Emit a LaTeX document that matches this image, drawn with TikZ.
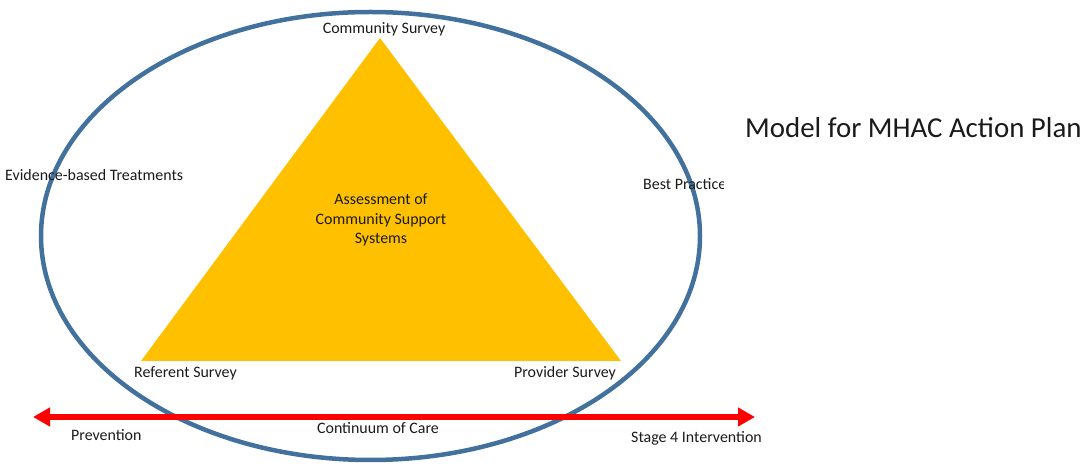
\documentclass[tikz,border=0pt]{standalone}
\usepackage{fontspec}
\setmainfont{Carlito}
\usepackage{tikz}
\usetikzlibrary{positioning, arrows.meta}
\definecolor{ringblue}{HTML}{41719C}
\definecolor{trigold}{HTML}{FFC000}
\definecolor{txtgray}{HTML}{1A1A1A}

\begin{document}
\begin{tikzpicture}[x=1bp,y=-1bp,
  lbl/.style={font=\fontsize{16}{19.5}\selectfont, inner sep=0pt, text=txtgray},
  bigl/.style={font=\fontsize{29}{34}\selectfont, inner sep=0pt, text=txtgray},
  ring/.style={draw=ringblue, line width=4.5bp},
  care/.style={draw=red, line width=6bp,
    {Triangle[length=17bp,width=18bp]}-{Triangle[length=17bp,width=18bp]}}]
\useasboundingbox (0,0) rectangle (1090,468);
% outer ring
\draw[ring] (370.5,236) ellipse (329.5 and 224);
% triangle
\coordinate (apex) at (380,38);
\coordinate (lcorner) at (141,361);
\coordinate (rcorner) at (621,361);
\fill[trigold] (apex) -- (lcorner) -- (rcorner) -- cycle;
\node[lbl, align=center] (assess) at (381,220) {Assessment of\\Community Support\\Systems};
% corner labels
\node[lbl, anchor=base] (comm) at (384,34) {Community Survey};
\node[lbl, anchor=base] (refer) at (185.5,378) {Referent Survey};
\node[lbl, anchor=base] (prov) at (565,378) {Provider Survey};
\node[lbl, anchor=base west] (evid) at (5,181) {Evidence-based Treatments};
\begin{scope}
\clip (600,160) rectangle (723,200);
\node[lbl, anchor=base west] (best) at (643,190) {Best Practice};
\end{scope}
\node[bigl, anchor=base west] (model) at (745,138) {Model for MHAC Action Plan};
% continuum arrow
\coordinate (cleft) at (33,417);
\coordinate (cright) at (755,417);
\draw[care] (cleft) -- (cright);
\node[lbl, anchor=base] (cont) at (378,434) {Continuum of Care};
\node[lbl, anchor=base west] (prev) at (71,440) {Prevention};
\node[lbl, anchor=base west] (stage) at (631,442) {Stage 4 Intervention};
\end{tikzpicture}
\end{document}
